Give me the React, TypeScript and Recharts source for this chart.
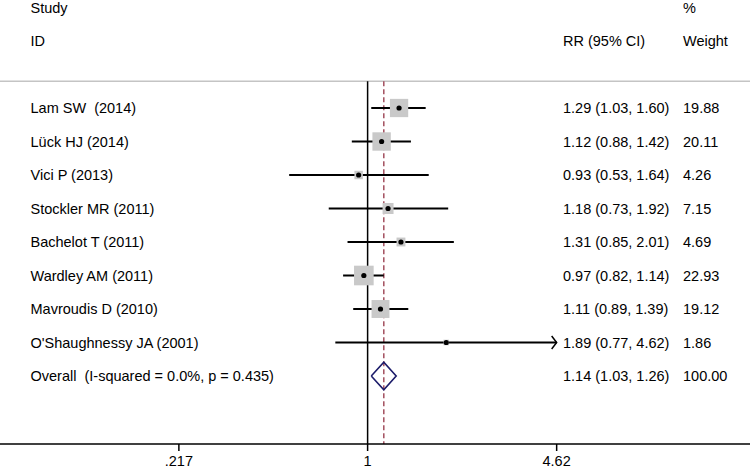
import React from 'react'
import {
  ComposedChart,
  Scatter,
  ErrorBar,
  XAxis,
  YAxis,
  ReferenceLine,
} from 'recharts'

const studies = [
  'Lam SW  (2014)',
  'Lück HJ (2014)',
  'Vici P (2013)',
  'Stockler MR (2011)',
  'Bachelot T (2011)',
  'Wardley AM (2011)',
  'Mavroudis D (2010)',
  "O'Shaughnessy JA (2001)",
]
const rr = [1.29, 1.12, 0.93, 1.18, 1.31, 0.97, 1.11, 1.89]
const lower = [1.03, 0.88, 0.53, 0.73, 0.85, 0.82, 0.89, 0.77]
const upper = [1.6, 1.42, 1.64, 1.92, 2.01, 1.14, 1.39, 4.62]
const weights = [19.88, 20.11, 4.26, 7.15, 4.69, 22.93, 19.12, 1.86]

const overallLabel = 'Overall  (I-squared = 0.0%, p = 0.435)'
const overallRR = 1.14
const overallLower = 1.03
const overallUpper = 1.26
const overallWeight = 100

const tickValues = [0.217, 1, 4.62]
const tickLabels = ['.217', '1', '4.62']

const FONT = '"Liberation Sans", Arial, Helvetica, sans-serif'
const X_DOMAIN: [number, number] = [0.051, 22.1]
const Y_DOMAIN: [number, number] = [-2.224, 11.03]
const HEADER_LINE = 0.2
const OVERALL_ROW = studies.length + 1
const DIAMOND_HALF = 0.41

const fmt = (v: number) => v.toFixed(2)
const ciText = (e: number, l: number, u: number) => `${fmt(e)} (${fmt(l)}, ${fmt(u)})`

const studyRows = studies.map((name, i) => ({
  x: rr[i],
  y: i + 1,
  w: weights[i],
  err: [rr[i] - lower[i], upper[i] - rr[i]],
}))

// CIs reaching the end of the labelled range get an arrow head
const arrowRows = studies
  .map((_, i) => ({ x: upper[i], y: i + 1, clipped: upper[i] >= tickValues[tickValues.length - 1] }))
  .filter((d) => d.clipped)

const diamond = [
  { x: overallLower, y: OVERALL_ROW },
  { x: overallRR, y: OVERALL_ROW - DIAMOND_HALF },
  { x: overallUpper, y: OVERALL_ROW },
  { x: overallRR, y: OVERALL_ROW + DIAMOND_HALF },
  { x: overallLower, y: OVERALL_ROW },
]

function rowText(v: number): [string, string, string] {
  if (v === -2) return ['Study', '', '%']
  if (v === -1) return ['ID', 'RR (95% CI)', 'Weight']
  if (v === OVERALL_ROW)
    return [overallLabel, ciText(overallRR, overallLower, overallUpper), fmt(overallWeight)]
  const i = v - 1
  return [studies[i], ciText(rr[i], lower[i], upper[i]), fmt(weights[i])]
}

// one text row per study plus the two header lines and the overall line
const textRows = [-2, -1, ...studies.map((_, i) => i + 1), OVERALL_ROW].map((v) => ({ x: 1, y: v }))

const RowText = (props: any) => {
  const { cy, payload } = props
  const [a, b, c] = rowText(payload.y)
  const common = { y: cy, dy: '0.36em', fontSize: 14.5, fontFamily: FONT, fill: '#000', style: { whiteSpace: 'pre' as const } }
  return (
    <g>
      <text x={30.5} textAnchor="start" {...common}>{a}</text>
      {b && <text x={563} textAnchor="start" {...common}>{b}</text>}
      <text x={683} textAnchor="start" {...common}>{c}</text>
    </g>
  )
}

const XTick = (props: any) => {
  const { x, y, payload } = props
  const i = tickValues.indexOf(payload.value)
  return (
    <text x={x} y={y} dy="0.71em" textAnchor="middle" fontSize={14.5} fontFamily={FONT} fill="#000">
      {i >= 0 ? tickLabels[i] : String(payload.value)}
    </text>
  )
}

const WeightBox = (props: any) => {
  const { cx, cy, payload } = props
  const s = 4.1 * Math.sqrt(payload.w)
  return <rect x={cx - s / 2} y={cy - s / 2} width={s} height={s} fill="#c9c9c9" />
}

const Dot = (props: any) => <circle cx={props.cx} cy={props.cy} r={2.6} fill="#000" />

const Arrow = (props: any) => (
  <polyline
    points={`${props.cx - 5},${props.cy - 6.5} ${props.cx},${props.cy} ${props.cx - 5},${props.cy + 6.5}`}
    fill="none"
    stroke="#000"
    strokeWidth={1.5}
  />
)

export default function App() {
  return (
    <div style={{ position: 'absolute', left: 0, top: 0, background: '#fff' }}>
      <ComposedChart width={750} height={470} margin={{ top: 0, right: 0, bottom: 0, left: 0 }}>
        <XAxis
          type="number"
          dataKey="x"
          scale="log"
          domain={X_DOMAIN}
          allowDataOverflow
          ticks={tickValues}
          interval={0}
          height={26}
          tickSize={7}
          tickMargin={5}
          axisLine={{ stroke: '#000', strokeWidth: 1.5 }}
          tickLine={{ stroke: '#000', strokeWidth: 1.5 }}
          tick={<XTick />}
        />
        <YAxis type="number" dataKey="y" reversed domain={Y_DOMAIN} allowDataOverflow hide />
        <ReferenceLine y={HEADER_LINE} stroke="#c4c4c4" strokeWidth={1.5} />
        <ReferenceLine
          segment={[
            { x: 1, y: HEADER_LINE },
            { x: 1, y: Y_DOMAIN[1] },
          ]}
          stroke="#000"
          strokeWidth={1.5}
        />
        <ReferenceLine
          segment={[
            { x: overallRR, y: HEADER_LINE },
            { x: overallRR, y: Y_DOMAIN[1] },
          ]}
          stroke="#a3505f"
          strokeWidth={1.5}
          strokeDasharray="5 3"
        />
        <Scatter data={textRows} shape={<RowText />} isAnimationActive={false} />
        <Scatter data={studyRows} shape={<WeightBox />} isAnimationActive={false} />
        <Scatter data={studyRows} shape={<Dot />} isAnimationActive={false}>
          <ErrorBar dataKey="err" direction="x" width={0} stroke="#000" strokeWidth={2} isAnimationActive={false} />
        </Scatter>
        <Scatter data={arrowRows} shape={<Arrow />} isAnimationActive={false} />
        <Scatter
          data={diamond}
          line={{ stroke: '#1c1c6a', strokeWidth: 1.6 }}
          lineType="joint"
          shape={() => <g />}
          isAnimationActive={false}
        />
      </ComposedChart>
    </div>
  )
}
